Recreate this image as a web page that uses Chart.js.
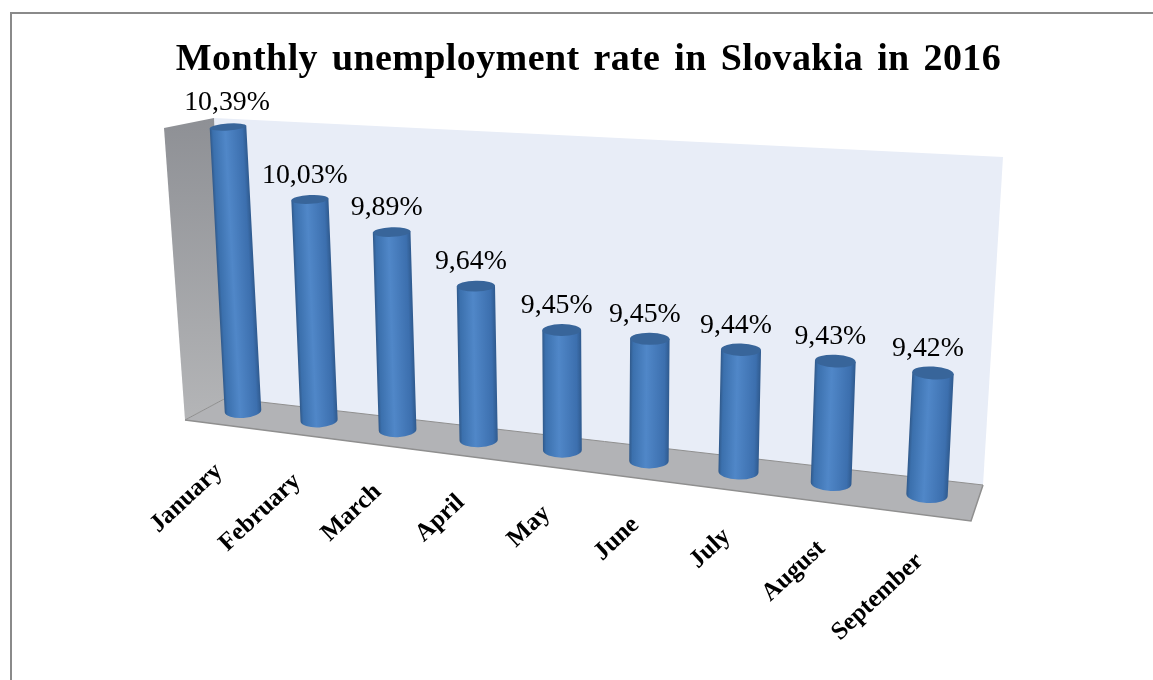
<!DOCTYPE html>
<html>
<head>
<meta charset="utf-8">
<title>Monthly unemployment rate in Slovakia in 2016</title>
<script src="https://cdn.jsdelivr.net/npm/chart.js@4"></script>
<style>
  html, body { margin: 0; padding: 0; background: #fff; overflow: hidden; }
  canvas { display: block; }
</style>
</head>
<body>
<canvas id="rateChart" width="1153" height="680"></canvas>
<script>
const months = ["January", "February", "March", "April", "May", "June", "July", "August", "September"];
const rates = [10.39, 10.03, 9.89, 9.64, 9.45, 9.45, 9.44, 9.43, 9.42];
const rateLabels = ["10,39%", "10,03%", "9,89%", "9,64%", "9,45%", "9,45%", "9,44%", "9,43%", "9,42%"];
const axisMin = 8.8;
const axisMax = 10.6;

// where two bars land on screen, this fixes the 3d view: [month index, value, screen x, screen y]
const viewAnchors = [
  [0, 10.39, 228, 127],
  [0, axisMin, 243, 411],
  [8, 9.42, 933, 373],
  [8, axisMin, 927, 495]
];
const backWall = [[214, 118], [1003, 157], [983, 485], [226, 398]];
const sideWall = [[164, 128], [214, 118], [226, 398], [185, 420]];
const floorPlane = [[185, 420], [226, 398], [983, 485], [971, 521]];

function solve(A, b) {
  const n = b.length;
  for (let i = 0; i < n; i++) {
    let p = i;
    for (let r = i + 1; r < n; r++) if (Math.abs(A[r][i]) > Math.abs(A[p][i])) p = r;
    [A[i], A[p]] = [A[p], A[i]];
    [b[i], b[p]] = [b[p], b[i]];
    for (let r = i + 1; r < n; r++) {
      const f = A[r][i] / A[i][i];
      for (let c = i; c < n; c++) A[r][c] -= f * A[i][c];
      b[r] -= f * b[i];
    }
  }
  const x = new Array(n).fill(0);
  for (let i = n - 1; i >= 0; i--) {
    let s = b[i];
    for (let c = i + 1; c < n; c++) s -= A[i][c] * x[c];
    x[i] = s / A[i][i];
  }
  return x;
}

// plane mapping from chart pixels to the tilted view
function viewOf(chart) {
  const A = [], b = [];
  viewAnchors.forEach(([i, v, sx, sy]) => {
    const x = chart.scales.x.getPixelForValue(i);
    const y = chart.scales.y.getPixelForValue(v);
    A.push([x, y, 1, 0, 0, 0, -x * sx, -y * sx]);
    b.push(sx);
    A.push([0, 0, 0, x, y, 1, -x * sy, -y * sy]);
    b.push(sy);
  });
  const h = solve(A, b);
  return (x, y) => {
    const w = h[6] * x + h[7] * y + 1;
    return [(h[0] * x + h[1] * y + h[2]) / w, (h[3] * x + h[4] * y + h[5]) / w];
  };
}

function polygon(ctx, pts) {
  ctx.beginPath();
  pts.forEach((p, i) => i ? ctx.lineTo(p[0], p[1]) : ctx.moveTo(p[0], p[1]));
  ctx.closePath();
}

const scene = {
  id: 'scene',
  beforeDraw(chart) {
    const ctx = chart.ctx;
    ctx.save();
    // frame, only top and left show
    ctx.strokeStyle = '#8a8a8a';
    ctx.lineWidth = 2;
    ctx.beginPath();
    ctx.moveTo(11, 680);
    ctx.lineTo(11, 13);
    ctx.lineTo(1153, 13);
    ctx.stroke();

    polygon(ctx, backWall);
    ctx.fillStyle = '#e8edf7';
    ctx.fill();

    const g = ctx.createLinearGradient(0, 118, 0, 420);
    g.addColorStop(0, '#8e9095');
    g.addColorStop(1, '#b4b5b7');
    polygon(ctx, sideWall);
    ctx.fillStyle = g;
    ctx.fill();

    polygon(ctx, floorPlane);
    ctx.fillStyle = '#b2b3b6';
    ctx.fill();

    ctx.strokeStyle = '#8f8f8f';
    ctx.lineWidth = 1.5;
    ctx.beginPath();
    ctx.moveTo(185, 420);
    ctx.lineTo(971, 521);
    ctx.lineTo(983, 485);
    ctx.stroke();
    ctx.lineWidth = 1;
    ctx.beginPath();
    ctx.moveTo(185, 420);
    ctx.lineTo(226, 398);
    ctx.lineTo(983, 485);
    ctx.stroke();
    ctx.restore();

    // the title is spaced out in the original, this stays set until the title layer is done
    ctx.letterSpacing = '0.4px';
    ctx.wordSpacing = '4px';
  },
  beforeDatasetsDraw(chart) {
    chart.ctx.letterSpacing = '0px';
    chart.ctx.wordSpacing = '0px';
  },
  // the bars come out as cylinders, built from the bar elements the library laid out
  beforeDatasetDraw(chart, args) {
    const ctx = chart.ctx;
    const view = viewOf(chart);
    const y0 = chart.scales.y.getPixelForValue(axisMin);
    const y1 = chart.scales.y.getPixelForValue(axisMin + 1);
    const meta = chart.getDatasetMeta(args.index);
    meta.data.forEach(bar => {
      const top = view(bar.x, bar.y);
      const bot = view(bar.x, y0);
      const b = view(bar.x, y1);
      const unit = Math.hypot(bot[0] - b[0], bot[1] - b[1]);
      const rx = unit * 0.208 / 2;
      const ryOf = p => 2 + p[1] * 0.012;
      // end caps sit square to the leaning bar
      const lean = Math.atan2(b[0] - bot[0], bot[1] - b[1]);
      const tilt = lean * 1.3;
      const c = Math.cos(tilt), s = Math.sin(tilt);

      // shading runs across the bar, so it has to lean with it
      const midY = (top[1] + bot[1]) / 2, midX = (top[0] + bot[0]) / 2;
      const gx = rx * Math.cos(lean), gy = rx * Math.sin(lean);
      const g = ctx.createLinearGradient(midX - gx, midY - gy, midX + gx, midY + gy);
      g.addColorStop(0, '#30598a');
      g.addColorStop(0.08, '#3b70ad');
      g.addColorStop(0.42, '#5087c8');
      g.addColorStop(0.88, '#3c6fae');
      g.addColorStop(1, '#2f5a8e');

      ctx.save();
      ctx.filter = 'blur(0.5px)';
      ctx.beginPath();
      ctx.moveTo(top[0] - rx * c, top[1] - rx * s);
      ctx.lineTo(bot[0] - rx * c, bot[1] - rx * s);
      ctx.ellipse(bot[0], bot[1], rx, ryOf(bot), tilt, Math.PI, 0, true);
      ctx.lineTo(top[0] + rx * c, top[1] + rx * s);
      ctx.closePath();
      ctx.fillStyle = g;
      ctx.fill();

      ctx.beginPath();
      ctx.ellipse(top[0], top[1], rx, ryOf(top), tilt, 0, Math.PI * 2);
      ctx.fillStyle = '#38659a';
      ctx.fill();
      ctx.restore();
    });
    return false;
  },
  afterDatasetsDraw(chart) {
    const ctx = chart.ctx;
    const view = viewOf(chart);
    const y0 = chart.scales.y.getPixelForValue(axisMin);
    const meta = chart.getDatasetMeta(0);
    ctx.save();
    ctx.fillStyle = '#000';
    meta.data.forEach((bar, i) => {
      const top = view(bar.x, bar.y);
      ctx.save();
      ctx.font = '27px "Liberation Serif"';
      ctx.textAlign = 'center';
      ctx.textBaseline = 'middle';
      ctx.translate(top[0] - (i ? 5 : 1), top[1] - 24);
      ctx.scale(1.03, 1);
      ctx.fillText(rateLabels[i], 0, 0);
      ctx.restore();

      const bot = view(bar.x, y0);
      ctx.save();
      ctx.font = 'bold 25px "Liberation Serif"';
      ctx.textAlign = 'right';
      ctx.textBaseline = 'middle';
      ctx.translate(bot[0] - 24 + 2.1 * i, bot[1] + 57 + 0.7 * i);
      ctx.rotate(-43 * Math.PI / 180);
      ctx.fillText(chart.data.labels[i], 0, 0);
      ctx.restore();
    });
    ctx.restore();
  }
};

new Chart(document.getElementById('rateChart'), {
  type: 'bar',
  data: {
    labels: months,
    datasets: [{
      label: 'Unemployment rate',
      data: rates,
      backgroundColor: '#4a7fc0',
      barPercentage: 0.5,
      categoryPercentage: 1
    }]
  },
  plugins: [scene],
  options: {
    responsive: false,
    animation: false,
    layout: { padding: { left: 24, top: 37 } },
    scales: {
      x: { display: false },
      y: { display: false, min: axisMin, max: axisMax }
    },
    plugins: {
      legend: { display: false },
      tooltip: { enabled: false },
      title: {
        display: true,
        text: 'Monthly unemployment rate in Slovakia in 2016',
        color: '#000',
        font: { family: '"Liberation Serif"', size: 38, weight: 'bold' },
        padding: 0
      }
    }
  }
});
</script>
</body>
</html>
